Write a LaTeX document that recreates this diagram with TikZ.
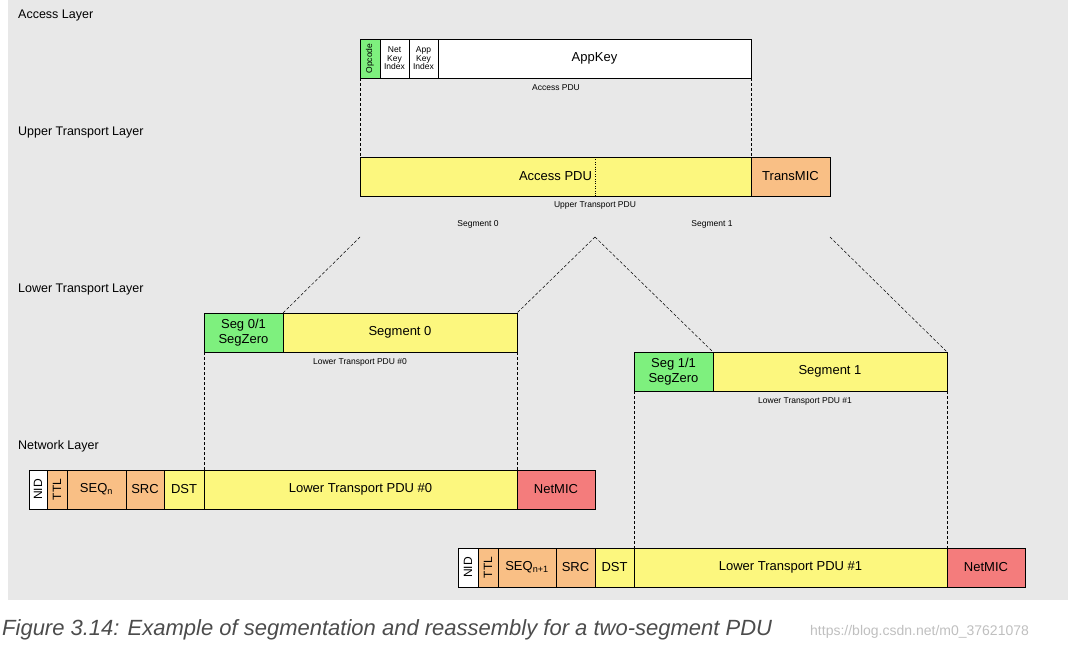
\documentclass[tikz,border=0pt]{standalone}
\usepackage{fontspec}
\setmainfont{Liberation Sans}
\begin{document}
\begin{tikzpicture}[x=1pt,y=-1pt,
  bx/.style={draw=black,line width=0.6pt},
  t/.style={font=\fontsize{13}{14}\selectfont},
  sm/.style={font=\fontsize{8.5}{8.5}\selectfont,align=center,inner sep=0},
  lbl/.style={font=\fontsize{8.5}{9}\selectfont,inner sep=0},
  lay/.style={font=\fontsize{12.5}{13}\selectfont,anchor=west,inner sep=0},
  dl/.style={line width=0.5pt,dash pattern=on 3pt off 2pt}]
\definecolor{bg}{HTML}{E8E8E8}
\definecolor{gr}{HTML}{7EF07E}
\definecolor{ye}{HTML}{FCF77E}
\definecolor{or}{HTML}{F9BF85}
\definecolor{rd}{HTML}{F47C7C}
\useasboundingbox (0,0) rectangle (1068,650);
\fill[bg] (8,0) rectangle (1068,600);
\newcommand\bx[6]{\path[bx,fill=#5] (#1,#3) rectangle (#2,#4); \node[#6] (#1-#3) at ({(#1+#2)/2},{(#3+#4)/2})}
% layer labels
\node[lay] (l1) at (18,15) {Access Layer};
\node[lay] (l2) at (18,132) {Upper Transport Layer};
\node[lay] (l3) at (18,289) {Lower Transport Layer};
\node[lay] (l4) at (18,446) {Network Layer};
% access
\bx{360}{380}{39}{78}{gr}{sm,rotate=90}{Opcode};
\bx{380}{409}{39}{78}{white}{sm}{Net\\Key\\Index};
\bx{409}{438}{39}{78}{white}{sm}{App\\Key\\Index};
\bx{438}{751}{39}{78}{white}{t}{AppKey};
\node[lbl] (c1) at (556,88) {Access PDU};
% upper
\bx{360}{751}{157}{196}{ye}{t}{Access PDU};
\draw[dotted] (595,157) -- (595,196);
\bx{751}{830}{157}{196}{or}{t}{TransMIC};
\node[lbl] (c2) at (595,205) {Upper Transport PDU};
\node[lbl] (s0) at (478,224) {Segment 0};
\node[lbl] (s1) at (712,224) {Segment 1};
% lower
\bx{204}{283}{313}{352}{gr}{align=center,font=\fontsize{13}{15}\selectfont}{Seg 0/1\\SegZero};
\bx{283}{517}{313}{352}{ye}{t}{Segment 0};
\node[lbl] (c3) at (360,362) {Lower Transport PDU \#0};
\bx{634}{713}{352}{391}{gr}{align=center,font=\fontsize{13}{15}\selectfont}{Seg 1/1\\SegZero};
\bx{713}{947}{352}{391}{ye}{t}{Segment 1};
\node[lbl] (c4) at (805,401) {Lower Transport PDU \#1};
% network 0
\bx{29}{47}{470}{509}{white}{rotate=90,font=\fontsize{12}{12}\selectfont}{NID};
\bx{47}{67}{470}{509}{or}{rotate=90,font=\fontsize{12}{12}\selectfont}{TTL};
\bx{67}{126}{470}{509}{or}{t}{SEQ\textsubscript{n}};
\bx{126}{164}{470}{509}{or}{t}{SRC};
\bx{164}{204}{470}{509}{ye}{t}{DST};
\bx{204}{517}{470}{509}{ye}{t}{Lower Transport PDU \#0};
\bx{517}{595}{470}{509}{rd}{t}{NetMIC};
% network 1
\bx{458}{478}{548}{587}{white}{rotate=90,font=\fontsize{12}{12}\selectfont}{NID};
\bx{478}{498}{548}{587}{or}{rotate=90,font=\fontsize{12}{12}\selectfont}{TTL};
\bx{498}{556}{548}{587}{or}{t}{SEQ\textsubscript{n+1}};
\bx{556}{595}{548}{587}{or}{t}{SRC};
\bx{595}{634}{548}{587}{ye}{t}{DST};
\bx{634}{947}{548}{587}{ye}{t}{Lower Transport PDU \#1};
\bx{947}{1025}{548}{587}{rd}{t}{NetMIC};
% dashed connectors
\coordinate (a1) at (360,78); \coordinate (a2) at (360,157);
\coordinate (b1) at (751,78); \coordinate (b2) at (751,157);
\draw[dl] (a1) -- (a2); \draw[dl] (b1) -- (b2);
\coordinate (d0) at (360,237); \coordinate (dm) at (595,237); \coordinate (d1) at (830,237);
\draw[dl] (d0) -- (283,313);
\draw[dl] (dm) -- (517,313);
\draw[dl] (dm) -- (713,352);
\draw[dl] (d1) -- (947,352);
\draw[dl] (204,352) -- (204,470);
\draw[dl] (517,352) -- (517,470);
\draw[dl] (634,391) -- (634,548);
\draw[dl] (947,391) -- (947,548);
% caption
\node[anchor=west,inner sep=0,text=black!70,font=\fontsize{22}{24}\selectfont\itshape] (capt) at (2,630) {Figure 3.14: Example of segmentation and reassembly for a two-segment PDU};
\node[anchor=west,inner sep=0,text=black!25,font=\fontsize{14}{15}\selectfont] (url) at (810,632) {https://blog.csdn.net/m0\_37621078};
\end{tikzpicture}
\end{document}
